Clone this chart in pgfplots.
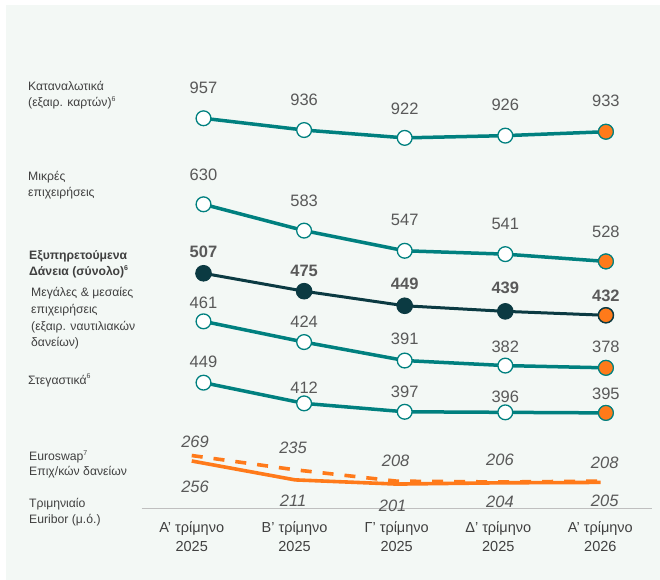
\documentclass[border=0pt]{standalone}
\usepackage{pgfplots}
\pgfplotsset{compat=1.18}
\usepackage{pgfplotstable}
\usepackage{fontspec}
\setmainfont{Liberation Sans}
\definecolor{bgc}{HTML}{F3F8F5}
\definecolor{tealc}{HTML}{00807F}
\definecolor{darkc}{HTML}{0B3A42}
\definecolor{orangec}{HTML}{FF7A1A}
\definecolor{numgray}{HTML}{595959}
\definecolor{lblgray}{HTML}{404040}
\definecolor{basegray}{HTML}{BFBFBF}

% consumer loans
\pgfplotstableread{
x v dx dy
0 957 0 30.5
1 936 0 30
2 922 0 29
3 926 0 30.5
4 933 0 30.5
}\kat
% small businesses
\pgfplotstableread{
x v dx dy
0 630 0 29.5
1 583 0 30
2 547 0 30.5
3 541 0 30.5
4 528 0 30
}\mik
% total performing loans
\pgfplotstableread{
x v dx dy
0 507 0 21.5
1 475 0 20.7
2 449 0 21.7
3 439 0 24
4 432 0 19
}\tot
% large & medium
\pgfplotstableread{
x v dx dy
0 461 0 18.6
1 424 0 20
2 391 0 21.5
3 382 0 18.6
4 378 0 21.5
}\meg
% mortgages
\pgfplotstableread{
x v dx dy
0 449 0 21
1 412 0 16
2 397 0 20.3
3 396 0 16
4 395 0 19
}\steg
% Euroswap
\pgfplotstableread{
x v dx dy
-0.117 269 3.3 13.8
0.910 235 -2 22
1.920 208 -1 20
2.947 206 0 22
3.948 208 4 18
}\eswap
% Euribor
\pgfplotstableread{
x v dx dy
-0.117 256 3.3 -26.3
0.910 211 -2 -21
1.920 201 -4 -22
2.947 204 0 -19
3.948 205 4 -18
}\eurib

\newcommand{\lbl}[4][]{\node[anchor=base west, inner sep=0pt, text=lblgray, font=\fontsize{12.2bp}{14bp}\selectfont#1] at (#2bp,-#3bp) {#4};}
\newcommand{\fnsup}[1]{\raisebox{0.42em}{\fontsize{7bp}{8bp}\selectfont #1}}

\begin{document}
\begin{tikzpicture}
\useasboundingbox (0,0) rectangle (660bp,-580bp);
\fill[white] (0,0) rectangle (660bp,-580bp);
\fill[bgc] (6bp,-5bp) rectangle (660bp,-580bp);
\begin{axis}[
  at={(0,0)}, anchor=north west,
  x=100.6bp, y=1bp,
  xmin=-2.0229, xmax=4.5378, ymin=-508.3, ymax=0,
  clip=false,
  axis line style={draw=none},
  major tick length=0pt,
  ytick=\empty,
  xtick={-0.117,0.905,1.92,2.93,3.945},
  xticklabels={{Α' τρίμηνο\\2025},{Β' τρίμηνο\\2025},{Γ' τρίμηνο\\2025},{Δ' τρίμηνο\\2025},{Α' τρίμηνο\\2026}},
  xticklabel style={align=center, font=\fontsize{14.5bp}{18.3bp}\selectfont, text=lblgray, yshift=-10bp},
  /pgf/number format/assume math mode=true,
  lab/.style={
    point meta=\thisrow{v},
    visualization depends on={\thisrow{dx}\as\mydx},
    visualization depends on={\thisrow{dy}\as\mydy},
    nodes near coords,
    every node near coord/.append style={anchor=center, xshift=\mydx bp, yshift=\mydy bp,
      font=\fontsize{16.5bp}{18bp}\selectfont, text=numgray, inner sep=0pt},
  },
  tealline/.style={tealc, line width=3.5bp, mark=*, mark size=7.4bp,
    mark options={fill=white, draw=tealc, line width=1.3bp, solid}},
  lastmark/.style={only marks, mark=*, mark size=7.4bp,
    mark options={fill=orangec, draw=#1, line width=1.1bp}, skip coords between index={0}{4}},
]
% baseline
\addplot[basegray, line width=1.5bp, no markers] coordinates {(-0.614,-508.3) (4.455,-508.3)};
% Euribor
\addplot[orangec, line width=3.6bp, no markers, lab,
  every node near coord/.append style={font=\fontsize{16.5bp}{18bp}\selectfont\itshape}]
  table[x=x, y expr=0.42*\thisrow{v}-568.5] {\eurib};
% Euroswap
\addplot[orangec, line width=3.6bp, no markers, dash pattern=on 11bp off 11bp, lab,
  every node near coord/.append style={font=\fontsize{16.5bp}{18bp}\selectfont\itshape}]
  table[x=x, y expr=0.42*\thisrow{v}-568.5] {\eswap};
% Consumer
\addplot[tealline, lab] table[x=x, y expr=0.56*\thisrow{v}-654.2] {\kat};
\addplot[lastmark=tealc] table[x=x, y expr=0.56*\thisrow{v}-654.2] {\kat};
% Small businesses
\addplot[tealline, lab] table[x=x, y expr=0.56*\thisrow{v}-557.1] {\mik};
\addplot[lastmark=tealc] table[x=x, y expr=0.56*\thisrow{v}-557.1] {\mik};
% Large & medium
\addplot[tealline, lab] table[x=x, y expr=0.56*\thisrow{v}-579.5] {\meg};
\addplot[lastmark=tealc] table[x=x, y expr=0.56*\thisrow{v}-579.5] {\meg};
% Mortgages
\addplot[tealline, lab] table[x=x, y expr=0.56*\thisrow{v}-634.1] {\steg};
\addplot[lastmark=tealc] table[x=x, y expr=0.56*\thisrow{v}-634.1] {\steg};
% Total
\addplot[darkc, line width=3bp, mark=*, mark size=7.8bp, mark options={fill=darkc, draw=darkc, line width=1bp}, lab,
  every node near coord/.append style={font=\fontsize{16.5bp}{18bp}\selectfont\bfseries}]
  table[x=x, y expr=0.56*\thisrow{v}-557.2] {\tot};
\addplot[lastmark=darkc] table[x=x, y expr=0.56*\thisrow{v}-557.2] {\tot};
\end{axis}
% left labels
\lbl{28}{90.7}{Καταναλωτικά}
\lbl{28}{106.5}{(εξαιρ. καρτών)\fnsup{6}}
\lbl{28}{180.7}{Μικρές}
\lbl{28}{196.5}{επιχειρήσεις}
\lbl[\bfseries]{29}{259}{Εξυπηρετούμενα}
\lbl[\bfseries]{29}{275.5}{Δάνεια (σύνολο)\fnsup{6}}
\lbl{31}{296.3}{Μεγάλες \& μεσαίες}
\lbl{31}{313.3}{επιχειρήσεις}
\lbl{31}{330}{(εξαιρ. ναυτιλιακών}
\lbl{31}{346.3}{δανείων)}
\lbl{28}{384}{Στεγαστικά\fnsup{6}}
\lbl{29}{460.5}{Euroswap\fnsup{7}}
\lbl{29}{475.5}{Επιχ/κών δανείων}
\lbl{29}{507.3}{Τριμηνιαίο}
\lbl{29}{523.5}{Euribor (μ.ό.)}
\end{tikzpicture}
\end{document}
